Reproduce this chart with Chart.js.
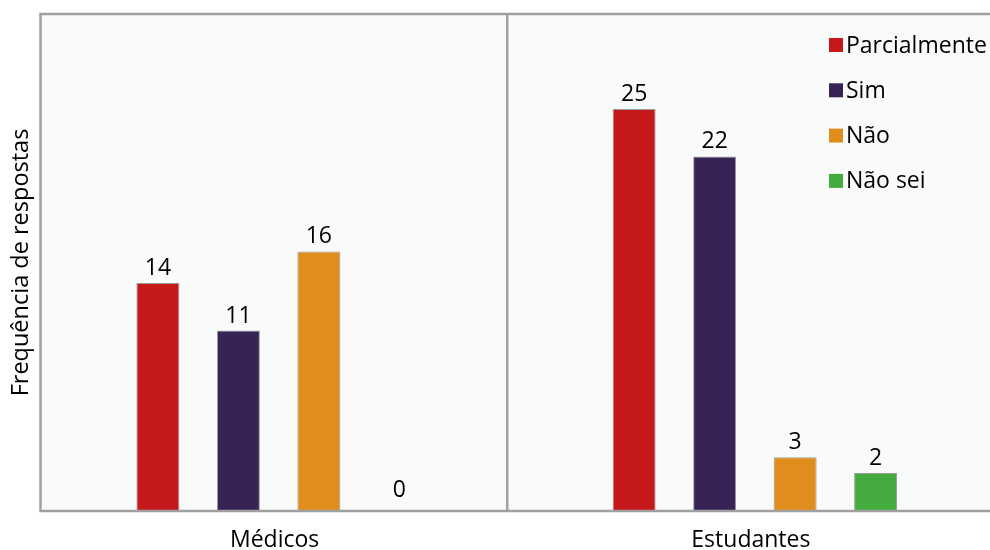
<!DOCTYPE html>
<html>
<head>
<meta charset="utf-8">
<script src="https://cdn.jsdelivr.net/npm/chart.js@4"></script>
<style>
  html, body { margin: 0; padding: 0; background: #fff; overflow: hidden; }
  #wrap { position: relative; width: 1000px; height: 550px; }
</style>
</head>
<body>
<div id="wrap"><canvas id="respostasChart"></canvas></div>
<script>
// Chart data
const categories = ['Médicos', 'Estudantes'];
const seriesNames = ['Parcialmente', 'Sim', 'Não', 'Não sei'];
const parcialmente = [14, 25];
const sim = [11, 22];
const nao = [16, 3];
const naoSei = [0, 2];
const seriesColors = ['#c4181b', '#372355', '#df8d1c', '#44ab3f'];

const FONT = '"Open Sans", "Liberation Sans", sans-serif';
const FONT_SIZE = 23;
const AXIS_MIN = -0.4;
const AXIS_MAX = 31;

const plotBackground = {
    id: 'plotBackground',
    beforeDraw(chart) {
        const { ctx, chartArea: a } = chart;
        ctx.save();
        ctx.fillStyle = '#f9fafa';
        ctx.fillRect(a.left, a.top, a.right - a.left, a.bottom - a.top);
        ctx.restore();
    }
};

const frameAndLabels = {
    id: 'frameAndLabels',
    afterDatasetsDraw(chart) {
        const { ctx, chartArea: a } = chart;
        ctx.save();

        // frame + divider
        ctx.strokeStyle = '#a0a0a0';
        ctx.lineWidth = 2.5;
        ctx.strokeRect(a.left, a.top, a.right - a.left, a.bottom - a.top);
        const divX = a.left + (a.right - a.left) * 0.49;
        ctx.beginPath();
        ctx.moveTo(divX, a.top);
        ctx.lineTo(divX, a.bottom);
        ctx.stroke();

        // value labels
        ctx.fillStyle = '#000';
        ctx.font = FONT_SIZE + 'px ' + FONT;
        ctx.textAlign = 'center';
        ctx.textBaseline = 'alphabetic';
        chart.data.datasets.forEach((ds, i) => {
            const meta = chart.getDatasetMeta(i);
            meta.data.forEach((bar, j) => {
                ctx.fillText(String(ds.data[j]), bar.x, bar.y - 8);
            });
        });

        // legend
        ctx.textAlign = 'left';
        ctx.textBaseline = 'middle';
        const lx = a.right - 164;
        chart.data.datasets.forEach((ds, i) => {
            const cy = a.top + 31 + i * 45.3;
            ctx.fillStyle = seriesColors[i];
            ctx.fillRect(lx, cy - 7, 14, 14);
            ctx.fillStyle = '#000';
            ctx.fillText(ds.label, lx + 17, cy + 1);
        });
        ctx.restore();
    }
};

const seriesValues = [parcialmente, sim, nao, naoSei];

new Chart(document.getElementById('respostasChart'), {
    type: 'bar',
    data: {
        labels: categories,
        datasets: seriesNames.map((name, i) => ({
            label: name,
            data: seriesValues[i],
            base: AXIS_MIN,
            backgroundColor: ctx => ctx.raw === 0 ? 'rgba(0,0,0,0)' : seriesColors[i],
            borderColor: ctx => ctx.raw === 0 ? 'rgba(0,0,0,0)' : '#9a9a9a',
            borderWidth: 1,
            borderSkipped: false,
            categoryPercentage: 0.676,
            barPercentage: 0.534
        }))
    },
    options: {
        responsive: true,
        maintainAspectRatio: false,
        animation: false,
        layout: { padding: { top: 14, right: 7, left: 0, bottom: 0 } },
        plugins: {
            legend: { display: false },
            tooltip: { enabled: false }
        },
        scales: {
            x: {
                grid: { display: false },
                border: { display: false },
                ticks: {
                    color: '#000',
                    font: { family: FONT, size: FONT_SIZE },
                    padding: 8,
                    labelOffset: -4
                },
                afterFit(scale) { scale.height = 39; }
            },
            y: {
                min: AXIS_MIN,
                max: AXIS_MAX,
                grid: { display: false },
                border: { display: false },
                ticks: { display: false },
                title: {
                    display: true,
                    text: 'Frequência de respostas',
                    color: '#000',
                    font: { family: FONT, size: 23.5 },
                    padding: { top: 7, bottom: 0 }
                },
                afterFit(scale) { scale.width = 40.5; }
            }
        }
    },
    plugins: [plotBackground, frameAndLabels]
});
</script>
</body>
</html>
